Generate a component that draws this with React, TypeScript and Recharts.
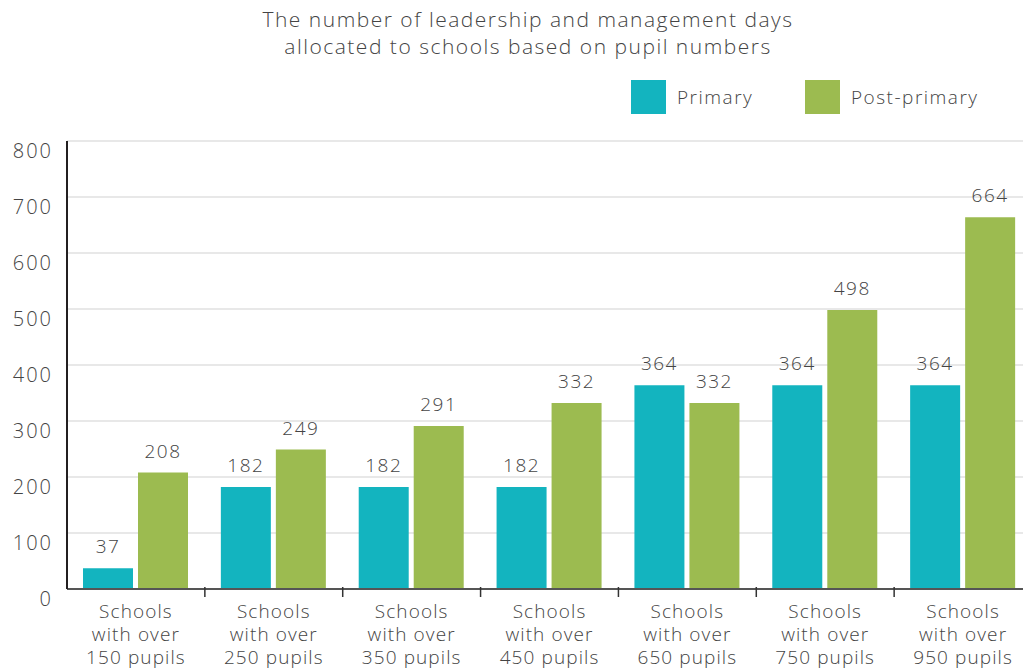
import { BarChart, Bar, XAxis, YAxis, CartesianGrid, LabelList } from 'recharts'

const categories = [
  'Schools with over 150 pupils',
  'Schools with over 250 pupils',
  'Schools with over 350 pupils',
  'Schools with over 450 pupils',
  'Schools with over 650 pupils',
  'Schools with over 750 pupils',
  'Schools with over 950 pupils',
]
const primary = [37, 182, 182, 182, 364, 364, 364]
const postPrimary = [208, 249, 291, 332, 332, 498, 664]
const yTicks = [0, 100, 200, 300, 400, 500, 600, 700, 800]
const titleLines = [
  'The number of leadership and management days',
  'allocated to schools based on pupil numbers',
]

const series = [
  { key: 'primary', name: 'Primary', color: '#13b4bf' },
  { key: 'postPrimary', name: 'Post-primary', color: '#9cbb50' },
]

const data = categories.map((name, i) => ({
  name,
  primary: primary[i],
  postPrimary: postPrimary[i],
}))

const FONT = '"Open Sans", sans-serif'
const TEXT = '#444'

function CategoryTick(props: any) {
  const { x, y, payload, index } = props
  const half = payload.offset ?? 69
  const lines = String(payload.value).split(/(?<=Schools) |(?<=over) /)
  return (
    <g>
      {index > 0 && (
        <line x1={x - half} x2={x - half} y1={y - 10} y2={y} stroke="#333" strokeWidth={1.5} />
      )}
      <text x={x} y={y} textAnchor="middle" fill={TEXT} fontSize={19} fontFamily={FONT} fontWeight={300} letterSpacing={1.1}>
        {lines.map((l: string, i: number) => (
          <tspan key={i} x={x} dy={i === 0 ? 21 : 23}>
            {l}
          </tspan>
        ))}
      </text>
    </g>
  )
}

export default function App() {
  return (
    <div
      style={{
        position: 'absolute',
        left: 0,
        top: 0,
        width: 1023,
        height: 668,
        overflow: 'hidden',
        background: '#fff',
        fontFamily: FONT,
        fontWeight: 300,
        color: TEXT,
      }}
    >
      <div style={{ position: 'absolute', left: 178, width: 700, top: 6, textAlign: 'center', fontSize: 21, lineHeight: '27px', letterSpacing: 1.5 }}>
        {titleLines.map((t) => (
          <div key={t}>{t}</div>
        ))}
      </div>

      {series.map((s, i) => (
        <div
          key={s.key}
          style={{ position: 'absolute', left: i === 0 ? 631 : 805, top: 80, display: 'flex', alignItems: 'center', fontSize: 19, letterSpacing: 1.5 }}
        >
          <span style={{ width: 35, height: 34, background: s.color, display: 'inline-block', marginRight: 11 }} />
          <span>{s.name}</span>
        </div>
      ))}

      <div style={{ position: 'absolute', left: 0, top: 0 }}>
        <BarChart
          width={1040}
          height={700}
          data={data}
          margin={{ top: 141, right: 8, bottom: 0, left: 0 }}
          barCategoryGap={16}
          barGap={5}
        >
          <CartesianGrid horizontal vertical={false} stroke="#e0e0e0" strokeWidth={1.5} />
          <XAxis
            dataKey="name"
            height={111}
            tickLine={false}
            axisLine={{ stroke: '#555', strokeWidth: 2 }}
            tick={<CategoryTick />}
            interval={0}
          />
          <YAxis
            width={67}
            domain={[0, 800]}
            ticks={yTicks}
            interval={0}
            tickLine={false}
            tickSize={8}
            tickMargin={6}
            axisLine={{ stroke: '#231f20', strokeWidth: 2 }}
            tick={{ fill: TEXT, fontSize: 20, fontFamily: FONT, fontWeight: 300, letterSpacing: 2, dy: 10 }}
          />
          {series.map((s) => (
            <Bar key={s.key} dataKey={s.key} name={s.name} fill={s.color} isAnimationActive={false}>
              <LabelList
                dataKey={s.key}
                position="top"
                offset={15}
                fill={TEXT}
                fontSize={19}
                fontFamily={FONT}
                fontWeight={300}
                letterSpacing={1.5}
              />
            </Bar>
          ))}
        </BarChart>
      </div>
    </div>
  )
}
